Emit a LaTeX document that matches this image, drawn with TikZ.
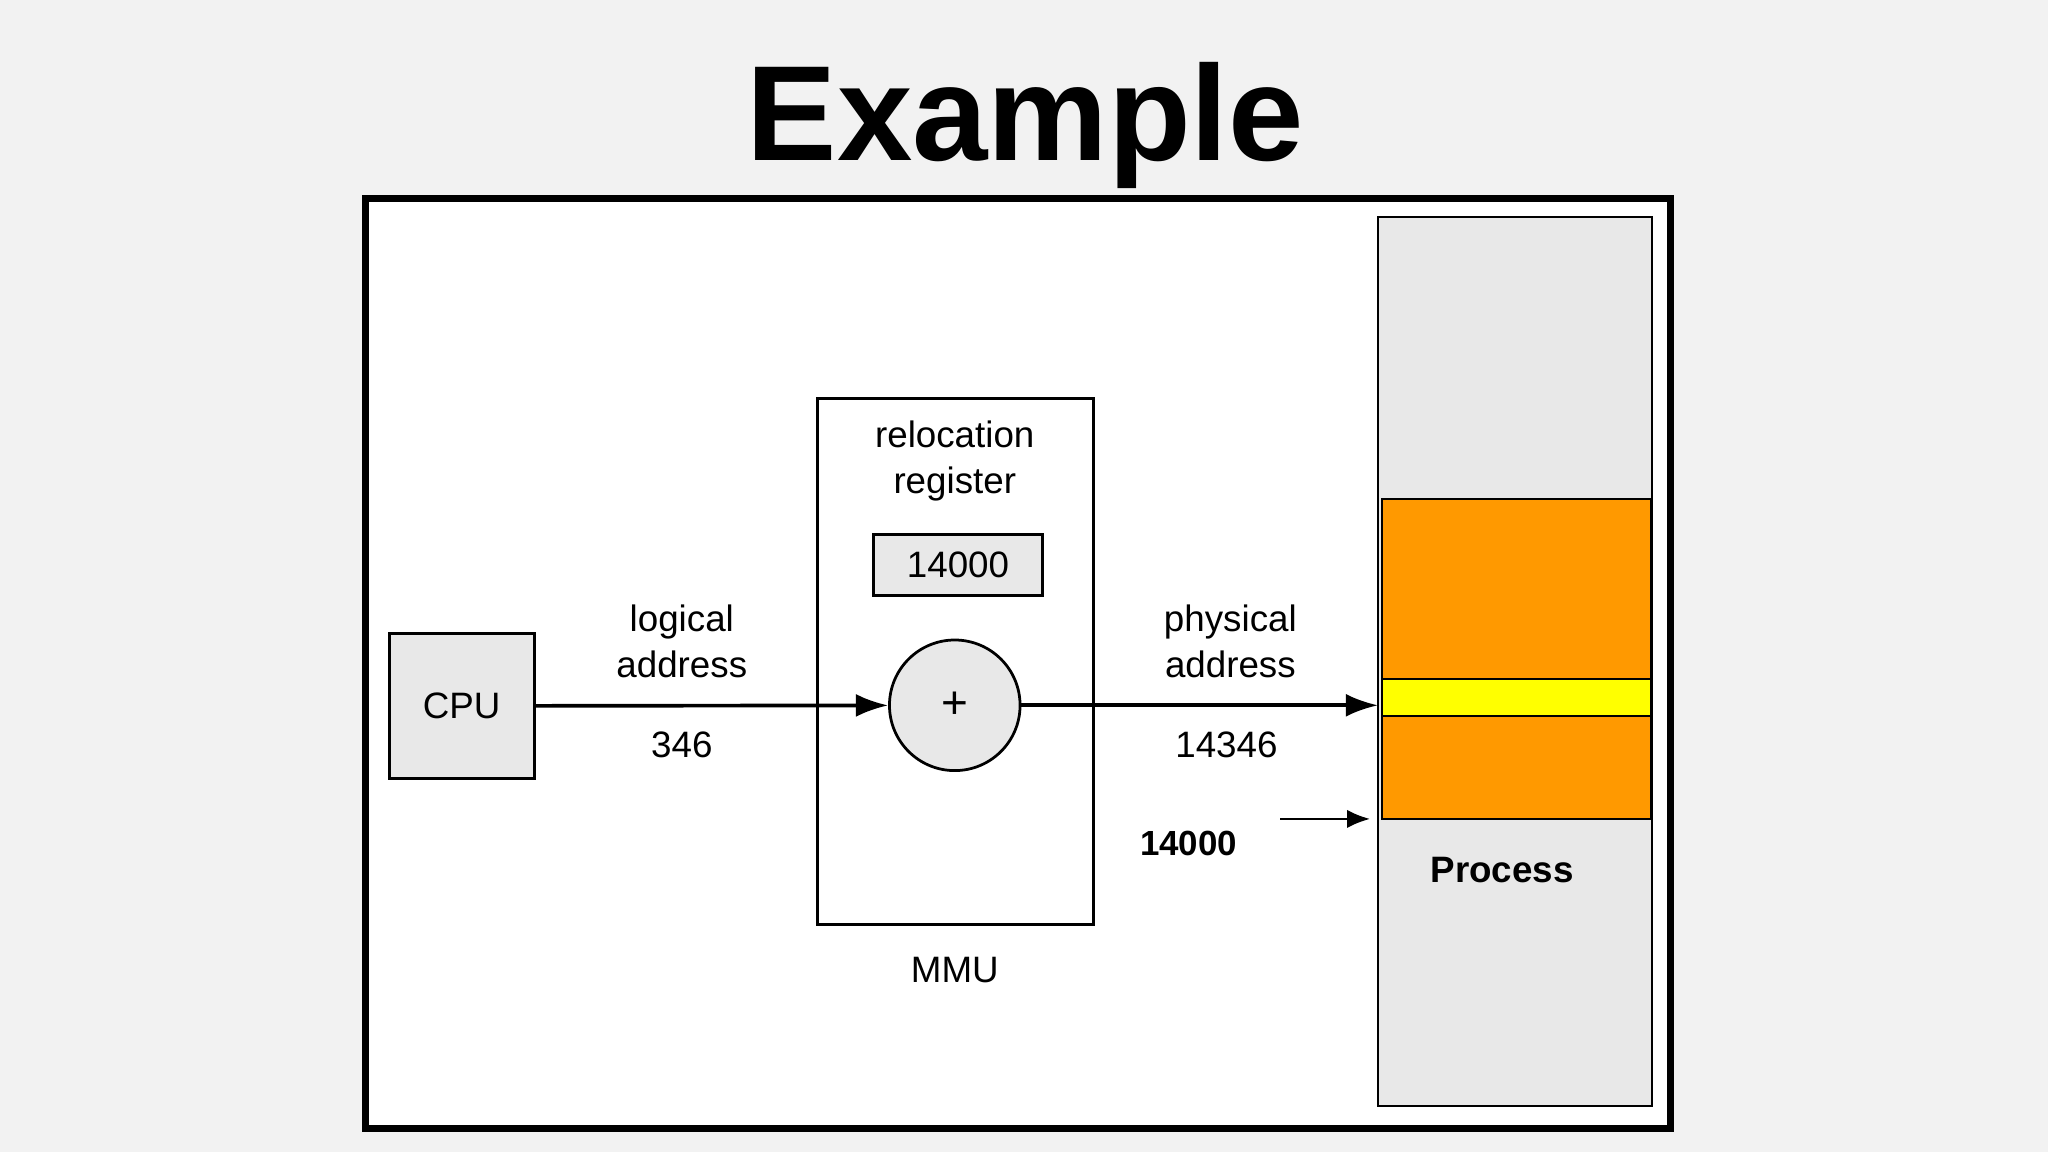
\documentclass[tikz,border=0pt]{standalone}
\usepackage{fontspec}
\setmainfont{Liberation Sans}
\usetikzlibrary{arrows.meta}
\definecolor{bg}{HTML}{F2F2F2}
\definecolor{lg}{HTML}{E8E8E8}
\definecolor{org}{HTML}{FF9900}
\definecolor{yel}{HTML}{FFFF00}
\begin{document}
\begin{tikzpicture}[x=0.01cm,y=-0.01cm,
  txt/.style={font=\fontsize{8}{10.2}\selectfont,align=center,inner sep=0},
  box/.style={draw,line width=0.6pt},
  arr/.style={-{Latex[length=7pt,width=5pt]},line width=0.8pt}]
\fill[bg] (0,0) rectangle (1568,882);
\useasboundingbox (0,0) rectangle (1568,882);
\node[font=\fontsize{29.5}{30}\selectfont\bfseries,inner sep=0] (title) at (785,96) {Example};
\draw[fill=white,line width=1.5pt] (280,152) rectangle (1279,864);
\draw[box,fill=lg,line width=0.4pt] (1055,166) rectangle (1265,847);
\draw[fill=org,line width=0.4pt] (1058,382) rectangle (1264,627);
\draw[fill=yel,line width=0.4pt] (1058,520) rectangle (1264,548);
\coordinate (memin) at (1055,540);
\node[txt,font=\fontsize{8}{10}\selectfont\bfseries] (proc) at (1150,666) {Process};
\node[box,fill=lg,minimum width=111*0.01cm,minimum height=111*0.01cm,txt] (cpu) at (353.5,540.5) {CPU};
\node[box,fill=white,minimum width=211*0.01cm,minimum height=403*0.01cm] (mmu) at (731.5,506.5) {};
\node[txt] (reloc) at (731,353) {relocation\\register};
\node[box,fill=lg,minimum width=129*0.01cm,minimum height=47*0.01cm,txt] (reg) at (733.5,432.5) {14000};
\node[draw,circle,fill=lg,line width=0.6pt,minimum size=100*0.01cm,txt,font=\fontsize{10}{10}\selectfont] (plus) at (731,540) {+};
\draw[arr] (cpu) -- (plus);
\draw[arr] (plus) -- (memin);
\node[txt] (la) at (522,491) {logical\\address};
\node[txt] (v346) at (522,570) {346};
\node[txt] (pa) at (942,491) {physical\\address};
\node[txt] (v14346) at (939,570) {14346};
\node[txt,font=\fontsize{7.6}{10}\selectfont\bfseries] (base) at (910,646) {14000};
\coordinate (a1) at (980,627);
\coordinate (a2) at (1049,627);
\draw[-{Latex[length=5pt,width=4pt]},line width=0.6pt] (a1) -- (a2);
\node[txt] (mmul) at (731,743) {MMU};
\end{tikzpicture}
\end{document}
